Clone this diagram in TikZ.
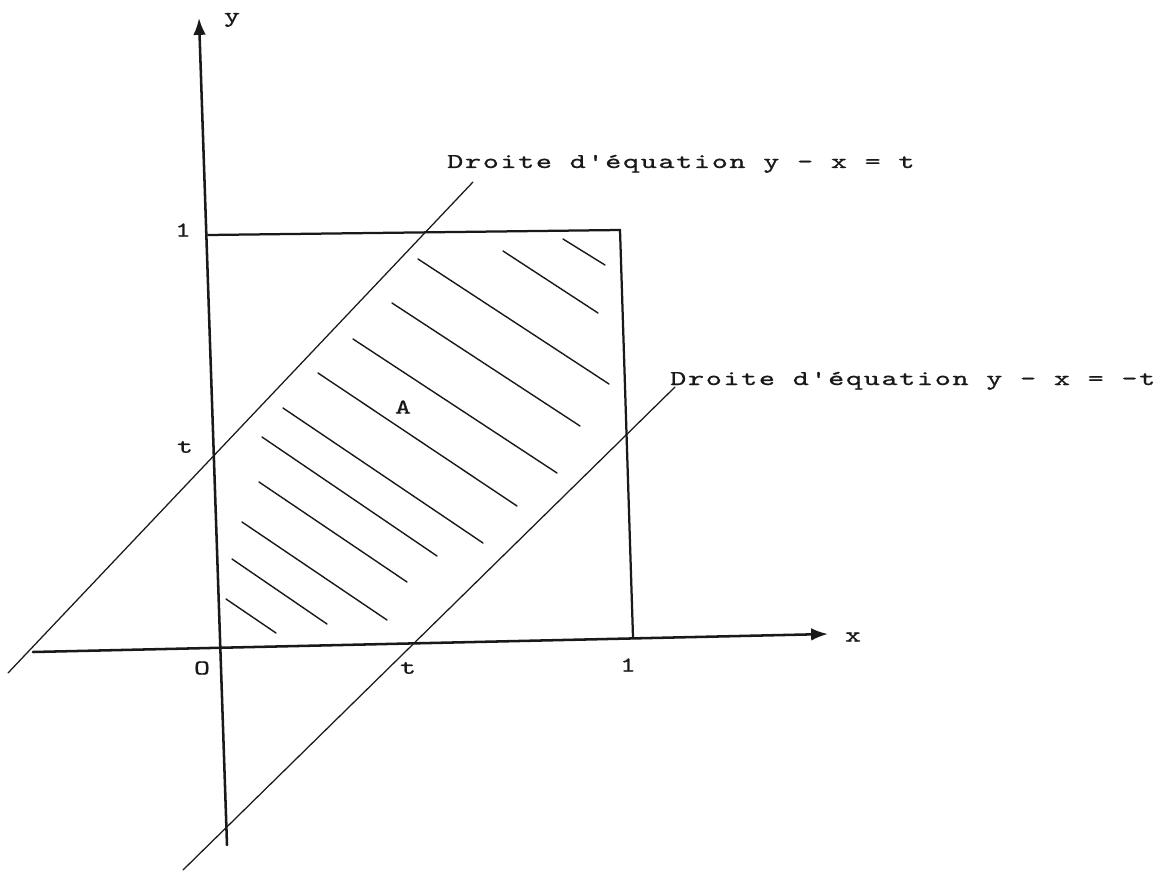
\documentclass[tikz,border=0pt]{standalone}
\usepackage{fontspec}
\usetikzlibrary{arrows.meta}
\newfontfamily\tw{lmmono10-regular.otf}[FakeStretch=1.45,FakeBold=0.8,LetterSpace=8]
\definecolor{ink}{RGB}{25,25,25}

\begin{document}
\begin{tikzpicture}[x=0.025cm,y=-0.025cm,line cap=round,
    axisline/.style={draw=ink,line width=1.8pt,-{Latex[length=12pt,width=9pt]}},
    boxline/.style={draw=ink,line width=1.6pt},
    thinline/.style={draw=ink,line width=0.9pt},
    hatchline/.style={draw=ink,line width=1pt},
    lbl/.style={inner sep=0pt,text=ink,font={\fontsize{15}{17}\tw}}]
  \useasboundingbox (0,0) rectangle (1162,873);
  \coordinate (O) at (217,648);
  \coordinate (xl) at (33,652);
  \coordinate (xr) at (828,634);
  \coordinate (yb) at (227,845);
  \coordinate (yt) at (199,18);
  \coordinate (c1) at (208,235);
  \coordinate (c2) at (620,230);
  \coordinate (c3) at (633,637);
  \coordinate (d1a) at (8,673);
  \coordinate (d1b) at (473,182);
  \coordinate (d2a) at (183,870);
  \coordinate (d2b) at (675,387);
  \draw[axisline] (xl) -- (xr);
  \draw[axisline] (yb) -- (yt);
  \draw[boxline] (c1) -- (c2) -- (c3);
  \draw[thinline] (d1a) -- (d1b);
  \draw[thinline] (d2a) -- (d2b);
  \foreach \xa/\ya/\xb/\yb in {
    563/239/605/265, 503/251/598/313, 418/259/609/384, 392/303/580/426,
    353/339/557/473, 318/373/517/506, 283/408/483/543, 262/437/437/556,
    259/482/407/582, 242/522/387/620, 232/559/327/624, 226/599/276/633}
    \draw[hatchline] (\xa,\ya) -- (\xb,\yb);
  \node[lbl] (ylab) at (232,20) {y};
  \node[lbl] (xlab) at (853,637) {x};
  \node[lbl] (olab) at (202,668) {O};
  \node[lbl] (tx) at (408,668) {t};
  \node[lbl] (onex) at (628,665) {1};
  \node[lbl] (oney) at (183,230) {1};
  \node[lbl] (ty) at (185,447) {t};
  \node[lbl] (alab) at (403,407) {A};
  \node[lbl,anchor=base west] (eq1) at (447,168) {Droite d'équation y - x = t};
  \node[lbl,anchor=base west] (eq2) at (670,385) {Droite d'équation y - x = -t};
\end{tikzpicture}
\end{document}
